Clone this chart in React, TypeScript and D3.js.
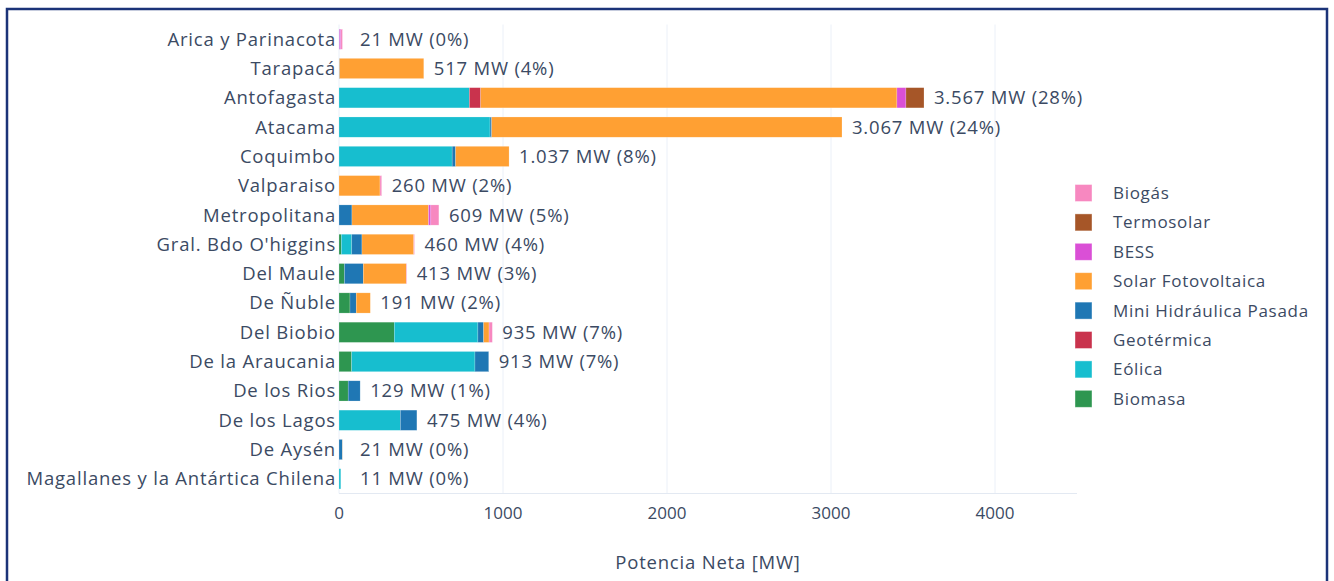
import React, { useMemo } from 'react';
import * as d3 from 'd3';

const regions = [
  'Arica y Parinacota',
  'Tarapacá',
  'Antofagasta',
  'Atacama',
  'Coquimbo',
  'Valparaiso',
  'Metropolitana',
  "Gral. Bdo O'higgins",
  'Del Maule',
  'De Ñuble',
  'Del Biobio',
  'De la Araucania',
  'De los Rios',
  'De los Lagos',
  'De Aysén',
  'Magallanes y la Antártica Chilena',
];

// stack order, left to right
const technologies = [
  'Biomasa',
  'Eólica',
  'Geotérmica',
  'Mini Hidráulica Pasada',
  'Solar Fotovoltaica',
  'BESS',
  'Termosolar',
  'Biogás',
];

const colors = ['#2e9650', '#17becf', '#c9334d', '#1f77b4', '#ffa033', '#da4fd6', '#a65628', '#f788c0'];

// MW per region, same order as regions
const biomasa = [0, 0, 0, 0, 0, 0, 0, 14, 33, 67, 337, 77, 56, 0, 0, 0];
const eolica = [0, 0, 795, 921, 690, 0, 0, 64, 0, 0, 510, 752, 0, 374, 0, 11];
const geotermica = [0, 0, 69, 0, 0, 0, 0, 0, 0, 0, 0, 0, 0, 0, 0, 0];
const miniHidraulica = [2, 3, 0, 10, 21, 0, 79, 62, 115, 38, 35, 84, 73, 101, 20, 0];
const solarFV = [0, 514, 2538, 2136, 326, 250, 467, 316, 262, 86, 33, 0, 0, 0, 1, 0];
const bess = [9, 0, 55, 0, 0, 0, 14, 0, 0, 0, 0, 0, 0, 0, 0, 0];
const termosolar = [0, 0, 110, 0, 0, 0, 0, 0, 0, 0, 0, 0, 0, 0, 0, 0];
const biogas = [10, 0, 0, 0, 0, 10, 49, 4, 3, 0, 20, 0, 0, 0, 0, 0];

const series = [biomasa, eolica, geotermica, miniHidraulica, solarFV, bess, termosolar, biogas];
const xTicks = [0, 1000, 2000, 3000, 4000];

const W = 1334;
const H = 581;
const margin = { left: 339, right: 1077, top: 24.5, bottom: 493.5 };
const font = "'Open Sans', sans-serif";
const textColor = '#3b4a63';
const labelStyle = { fontFamily: font, fontSize: 18.5, letterSpacing: 0.8, fill: textColor } as const;

export default function App() {
  const rows = useMemo(
    () =>
      regions.map((r, i) => {
        const o: Record<string, number | string> = { region: r };
        technologies.forEach((t, k) => (o[t] = series[k][i]));
        return o;
      }),
    []
  );

  const stacked = useMemo(() => d3.stack<any>().keys(technologies)(rows), [rows]);
  const totals = regions.map((_, i) => d3.sum(series, (s) => s[i]));
  const grand = d3.sum(totals);

  const x = d3.scaleLinear().domain([0, 4500]).range([margin.left, margin.right]);
  const y = d3.scaleBand<string>().domain(regions).range([margin.top, margin.bottom]).paddingInner(0.31).paddingOuter(0.155);

  const fmt = d3.formatLocale({ decimal: ',', thousands: '.', grouping: [3], currency: ['$', ''] }).format(',d');

  const legendOrder = technologies.map((t, k) => ({ t, c: colors[k] })).reverse();

  return (
    <>
      <style>{`body{margin:0}`}</style>
      <svg width={W} height={H} style={{ display: 'block', background: '#fff' }}>
        <rect x={7} y={9} width={1320} height={H + 20} fill="#fff" stroke="#1b3378" strokeWidth={2.5} />

        {/* grid */}
        {xTicks.map((t) => (
          <line key={t} x1={x(t)} x2={x(t)} y1={margin.top} y2={margin.bottom} stroke="#ebf0f8" strokeWidth={1} />
        ))}
        <line x1={margin.left} x2={margin.right} y1={margin.bottom} y2={margin.bottom} stroke="#e3e9f2" strokeWidth={1} />

        {/* bars */}
        {stacked.map((layer, k) => (
          <g key={technologies[k]} fill={colors[k]}>
            {layer.map((d, i) =>
              d[1] - d[0] > 0 ? (
                <rect
                  key={i}
                  x={x(d[0])}
                  y={y(regions[i])}
                  width={x(d[1]) - x(d[0])}
                  height={y.bandwidth()}
                  stroke="#fff"
                  strokeOpacity={0.4}
                  strokeWidth={0.5}
                />
              ) : null
            )}
          </g>
        ))}

        {/* value labels */}
        {regions.map((r, i) => (
          <text
            key={r}
            x={Math.max(x(totals[i]) + 10, x(0) + 21)}
            y={(y(r) as number) + y.bandwidth() / 2}
            dy="0.35em"
            style={labelStyle}
          >
            {`${fmt(totals[i])} MW (${Math.round((totals[i] / grand) * 100)}%)`}
          </text>
        ))}

        {/* y labels */}
        {regions.map((r) => (
          <text
            key={r}
            x={margin.left - 3}
            y={(y(r) as number) + y.bandwidth() / 2}
            dy="0.35em"
            textAnchor="end"
            style={labelStyle}
          >
            {r}
          </text>
        ))}

        {/* x ticks */}
        {xTicks.map((t) => (
          <text key={t} x={x(t)} y={513} dy="0.35em" textAnchor="middle" fontFamily={font} fontSize={17} fill={textColor}>
            {t}
          </text>
        ))}
        <text x={(margin.left + margin.right) / 2} y={563} dy="0.35em" textAnchor="middle" style={labelStyle}>
          Potencia Neta [MW]
        </text>

        {/* legend */}
        {legendOrder.map((l, j) => (
          <g key={l.t} transform={`translate(1075, ${193 + j * 29.4})`}>
            <rect x={0} y={-8.5} width={17} height={17} fill={l.c} stroke="#fff" strokeOpacity={0.5} strokeWidth={0.8} />
            <text x={38} y={0} dy="0.35em" fontFamily={font} fontSize={17} letterSpacing={0.7} fill={textColor}>
              {l.t}
            </text>
          </g>
        ))}
      </svg>
    </>
  );
}
